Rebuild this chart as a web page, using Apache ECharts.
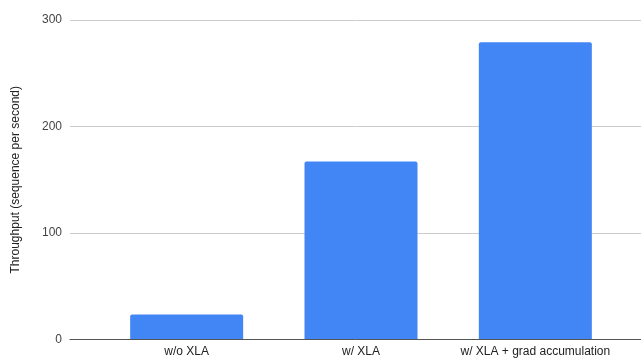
<!DOCTYPE html>
<html>
<head>
<meta charset="utf-8">
<script src="https://cdn.jsdelivr.net/npm/echarts@6/dist/echarts.min.js"></script>
<style>
  html, body { margin: 0; padding: 0; background: #fff; }
  #chart { width: 641px; height: 358px; }
</style>
</head>
<body>
<div id="chart"></div>
<script>
// Throughput per training configuration
const categories = ['w/o XLA', 'w/ XLA', 'w/ XLA + grad accumulation'];
const throughput = [23, 167, 279];
const yTicks = [0, 100, 200, 300];

const FONT = '"Liberation Sans", Arial, sans-serif';
const yMin = yTicks[0];
const yMax = yTicks[yTicks.length - 1];
const yStep = yTicks[1] - yTicks[0];

const chart = echarts.init(document.getElementById('chart'));
chart.setOption({
  animation: false,
  textStyle: { fontFamily: FONT },
  grid: [
    // background frame: gridlines, baseline and y labels
    { left: 70, right: 0, top: 20, bottom: 18.5 },
    // bars and category labels
    { left: 99.5, right: 18.5, top: 20, bottom: 18.5 }
  ],
  xAxis: [
    {
      gridIndex: 0, type: 'value', min: 0, max: 1,
      axisLine: { show: true, lineStyle: { color: '#555555', width: 1 } },
      axisTick: { show: false }, axisLabel: { show: false }, splitLine: { show: false }
    },
    {
      gridIndex: 1, type: 'category', data: categories,
      axisLine: { show: false }, axisTick: { show: false },
      axisLabel: { color: '#222222', fontSize: 12, margin: 7, fontFamily: FONT, interval: 0 }
    }
  ],
  yAxis: [
    {
      gridIndex: 0, type: 'value', min: yMin, max: yMax, interval: yStep,
      name: 'Throughput (sequence per second)', nameLocation: 'middle', nameGap: 48,
      nameTextStyle: { color: '#222222', fontSize: 12, fontFamily: FONT },
      axisLine: { show: false }, axisTick: { show: false },
      axisLabel: { color: '#444444', fontSize: 12, margin: 8, fontFamily: FONT },
      splitLine: { lineStyle: { color: '#cccccc', width: 1 } }
    },
    {
      gridIndex: 1, type: 'value', min: yMin, max: yMax, interval: yStep,
      axisLine: { show: false }, axisTick: { show: false },
      axisLabel: { show: false }, splitLine: { show: false }
    }
  ],
  series: [{
    type: 'bar',
    xAxisIndex: 1, yAxisIndex: 1,
    data: throughput,
    barWidth: 113,
    itemStyle: { color: '#4285f4', borderRadius: [2, 2, 0, 0] },
    z: 1
  }]
});
</script>
</body>
</html>
